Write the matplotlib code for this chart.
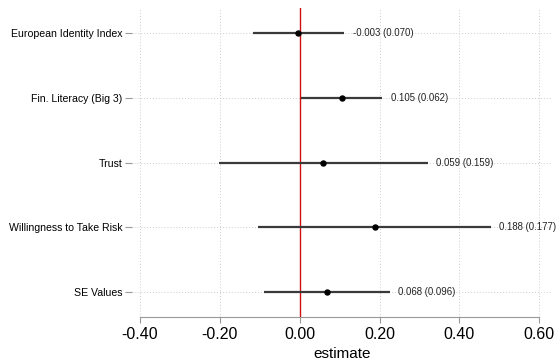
import matplotlib
matplotlib.use("Agg")
import matplotlib.pyplot as plt

plt.rcParams['font.family'] = ['Liberation Sans', 'DejaVu Sans']

# coefficient estimates and standard errors
variables = ["European Identity Index", "Fin. Literacy (Big 3)", "Trust",
             "Willingness to Take Risk", "SE Values"]
estimates = [-0.003, 0.105, 0.059, 0.188, 0.068]
std_errors = [0.070, 0.062, 0.159, 0.177, 0.096]
xticks = [-0.40, -0.20, 0.00, 0.20, 0.40, 0.60]

z = 1.645  # 90% interval

fig = plt.figure(figsize=(5.56, 3.64), dpi=100)
ax = fig.add_axes([132 / 556, 47 / 364, (552 - 132) / 556, (317 - 8) / 364])

ypos = list(range(1, len(variables) + 1))

# dotted grid
for x in xticks:
    if x != 0:
        ax.axvline(x, color="#cccccc", lw=0.7, ls=(0, (1, 2)), zorder=0)
for y in ypos:
    ax.axhline(y, color="#cccccc", lw=0.7, ls=(0, (1, 2)), zorder=0)

ax.axvline(0, color="#d01010", lw=1.0, zorder=1)

for y, est, se in zip(ypos, estimates, std_errors):
    lo, hi = est - z * se, est + z * se
    ax.plot([lo, hi], [y, y], color="#3a3a3a", lw=1.6, solid_capstyle="butt", zorder=2)
    ax.plot(est, y, "o", color="black", ms=3.6, zorder=3)
    ax.annotate(f"{est:.3f} ({se:.3f})", xy=(hi, y), xytext=(6, 0),
                textcoords="offset points", va="center", ha="left",
                fontsize=6.9, color="#222222")

ax.set_xlim(-0.42, 0.632)
ax.set_ylim(len(variables) + 0.38, 0.62)

ax.set_yticks(ypos)
ax.set_yticklabels(variables, fontsize=7.6)
ax.set_xticks(xticks)
ax.set_xticklabels([f"{x:.2f}" for x in xticks], fontsize=11.5)
ax.set_xlabel("estimate", fontsize=11, labelpad=4)

for side in ["top", "right", "left"]:
    ax.spines[side].set_visible(False)
ax.spines["bottom"].set_color("#999999")
ax.spines["bottom"].set_bounds(-0.40, 0.60)
ax.tick_params(axis="x", length=4, color="#999999", pad=3)
ax.tick_params(axis="y", length=5, color="#999999", pad=2)

fig.savefig("out.png", dpi=100)
